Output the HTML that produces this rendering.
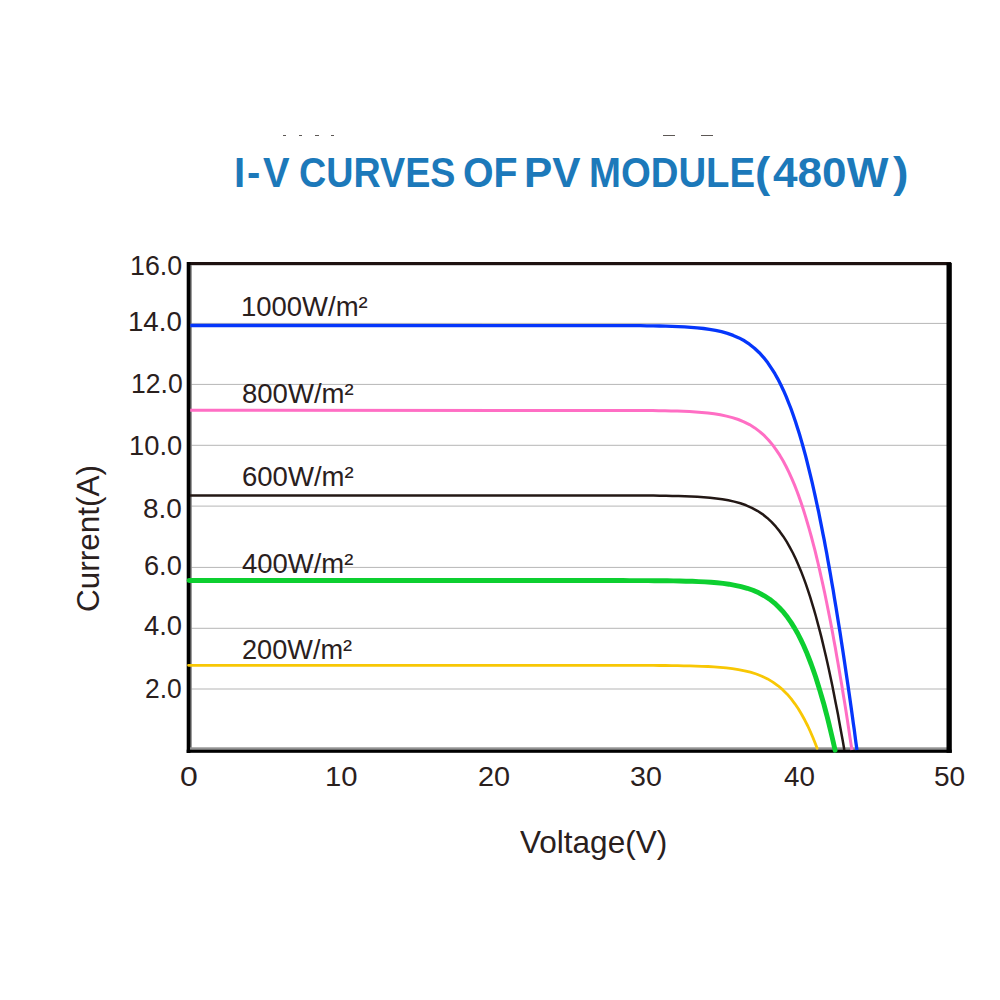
<!DOCTYPE html>
<html><head><meta charset="utf-8">
<style>
html,body{margin:0;padding:0;background:#fff;}
body{width:1000px;height:1000px;position:relative;overflow:hidden;font-family:"Liberation Sans",sans-serif;color:#2a201d;}
.t{position:absolute;white-space:nowrap;line-height:1;}
.tw{top:152px;font-size:42.5px;font-weight:bold;color:#1c79ba;transform-origin:0 0;}
.lb{font-size:26.8px;transform-origin:0 0;}
.ax{font-size:32px;transform-origin:0 0;}
svg{position:absolute;left:0;top:0;}
.dash{position:absolute;height:1.4px;background:#5d5855;top:134.5px;}
</style></head><body>
<div class="dash" style="left:282.6px;width:3.4px"></div>
<div class="dash" style="left:298.8px;width:3.4px"></div>
<div class="dash" style="left:315.4px;width:3.3px"></div>
<div class="dash" style="left:331.1px;width:3.4px"></div>
<div class="dash" style="left:663px;width:12px"></div>
<div class="dash" style="left:700.5px;width:12px"></div>
<span class="t tw" style="left:233.9px;transform:scaleX(0.944)">I</span>
<span class="t tw" style="left:247.3px;transform:scaleX(0.940)">-</span>
<span class="t tw" style="left:262.8px;transform:scaleX(0.937)">V</span>
<span class="t tw" style="left:298.6px;transform:scaleX(0.887)">CURVES</span>
<span class="t tw" style="left:462.6px;transform:scaleX(0.924)">OF</span>
<span class="t tw" style="left:523.5px;transform:scaleX(0.997)">PV</span>
<span class="t tw" style="left:589.4px;transform:scaleX(0.902)">MODULE</span>
<span class="t tw" style="left:755.4px;transform:scaleX(1.075)">(</span>
<span class="t tw" style="left:773.0px;transform:scaleX(1.039)">480W</span>
<span class="t tw" style="left:892.5px;transform:scaleX(1.098)">)</span>

<svg width="1000" height="1000" viewBox="0 0 1000 1000">
<rect x="191" y="322.9" width="756" height="1" fill="#b6b6b6"/><rect x="191" y="383.9" width="756" height="1" fill="#b6b6b6"/><rect x="191" y="444.8" width="756" height="1" fill="#b6b6b6"/><rect x="191" y="505.6" width="756" height="1" fill="#b6b6b6"/><rect x="191" y="566.9" width="756" height="1" fill="#b6b6b6"/><rect x="191" y="627.8" width="756" height="1" fill="#b6b6b6"/><rect x="191" y="688.5" width="756" height="1" fill="#b6b6b6"/>
<rect x="187" y="262" width="764" height="3.2" fill="#1d110f"/>
<rect x="190" y="265" width="1.8" height="485" fill="#858585"/>
<rect x="186.7" y="262" width="3.7" height="491" fill="#000"/>
<rect x="190" y="747.3" width="757" height="2.6" fill="#939393"/>
<rect x="186.7" y="749.7" width="765" height="3.1" fill="#000"/>
<rect x="946.5" y="262.8" width="5.3" height="490" fill="#000"/>
<g fill="none" stroke-linejoin="round">
<path d="M188.5 665.3L629.2 665.3L635.3 665.4L641.3 665.4L647.4 665.4L653.4 665.4L659.5 665.5L665.5 665.5L671.6 665.6L677.7 665.7L683.7 665.8L689.8 665.9L695.8 666.1L701.9 666.3L708.0 666.5L714.0 666.9L720.1 667.3L726.2 667.9L732.3 668.6L738.4 669.6L744.6 670.8L750.4 672.2L756.3 674.0L761.9 676.2L767.6 678.9L772.9 682.1L778.1 685.8L782.9 689.9L787.2 694.2L791.2 698.9L794.9 703.8L798.3 708.8L801.7 714.5L804.9 720.3L807.8 726.0L810.3 731.5L812.9 737.5L815.5 744.0L817.0 748.0L817.1 748.2" stroke="#f8c704" stroke-width="2.8" stroke-linecap="round"/>
<path d="M189.1 580.5L623.1 580.5L629.4 580.6L635.7 580.6L642.0 580.6L648.3 580.6L654.5 580.7L660.8 580.7L667.1 580.8L673.4 580.9L679.7 581.0L686.0 581.2L692.3 581.3L698.7 581.6L705.0 581.9L711.0 582.3L717.0 582.8L723.0 583.4L729.0 584.2L735.0 585.3L741.1 586.6L747.2 588.3L753.0 590.3L758.8 592.8L764.3 595.8L769.6 599.2L774.5 603.1L779.1 607.5L783.5 612.2L787.5 617.3L791.2 622.6L794.6 628.1L797.7 633.5L800.8 639.6L803.6 645.5L806.4 651.9L808.8 658.0L811.3 664.5L813.4 670.4L815.6 676.7L817.7 683.4L819.9 690.6L821.7 696.7L823.6 703.2L825.4 710.0L827.3 717.2L829.2 724.8L830.6 730.8L832.1 737.0L833.6 743.5L834.6 748.0L835.1 750.2" stroke="#0dcf30" stroke-width="4.9" stroke-linecap="round"/>
<path d="M190.0 495.4L615.9 495.4L622.2 495.5L628.4 495.5L634.7 495.5L641.0 495.5L647.2 495.6L653.5 495.6L659.8 495.7L666.0 495.8L672.3 495.9L678.6 496.0L684.8 496.2L691.1 496.5L697.4 496.8L703.7 497.2L710.0 497.7L716.3 498.4L722.3 499.2L728.3 500.3L734.3 501.6L740.4 503.3L746.1 505.3L751.8 507.8L757.3 510.8L762.4 514.1L767.2 517.9L771.7 522.1L775.9 526.7L779.7 531.4L783.3 536.4L786.8 541.9L790.0 547.6L792.9 553.0L795.8 559.0L798.3 564.7L800.9 570.9L803.5 577.6L805.7 583.6L807.9 590.1L810.2 597.1L812.0 603.1L813.9 609.4L815.8 616.0L817.7 623.1L819.7 630.6L821.2 636.4L822.7 642.6L824.2 649.0L825.8 655.7L827.4 662.7L829.0 670.0L830.6 677.6L832.3 685.5L833.9 693.8L835.6 702.4L836.8 708.4L838.0 714.5L839.1 720.9L840.3 727.4L841.5 734.0L842.8 740.9L844.0 748.0L844.3 750.0" stroke="#231815" stroke-width="2.5" stroke-linecap="butt"/>
<path d="M190.2 410.3L609.9 410.4L616.0 410.4L622.1 410.4L628.2 410.4L634.3 410.4L640.5 410.5L646.6 410.5L652.7 410.6L658.8 410.7L665.0 410.8L671.1 410.9L677.2 411.1L683.3 411.3L689.5 411.6L695.6 412.0L701.8 412.4L707.9 413.0L714.1 413.8L720.3 414.8L726.5 416.1L732.4 417.6L738.3 419.5L743.9 421.8L749.5 424.6L754.8 427.9L759.7 431.6L764.4 435.7L768.7 440.2L772.6 444.9L776.2 449.8L779.9 455.4L783.2 461.0L786.1 466.5L789.1 472.6L791.7 478.3L794.4 484.6L796.6 490.3L798.9 496.4L801.2 503.0L803.5 510.0L805.4 516.1L807.3 522.5L809.3 529.3L811.3 536.5L813.3 544.1L814.9 550.1L816.4 556.4L818.0 563.0L819.6 569.9L821.2 577.1L822.9 584.6L824.6 592.5L826.3 600.7L828.0 609.3L829.2 615.2L830.4 621.3L831.6 627.6L832.8 634.1L834.0 640.8L835.3 647.6L836.5 654.7L837.8 662.0L839.1 669.5L840.4 677.2L841.8 685.2L843.1 693.4L844.5 701.8L845.9 710.5L847.3 719.5L848.7 728.7L850.1 738.2L851.6 748.0L851.9 750.0" stroke="#ff6ec4" stroke-width="3.0" stroke-linecap="butt"/>
<path d="M190.3 325.5L603.0 325.6L609.3 325.6L615.5 325.6L621.8 325.6L628.1 325.6L634.4 325.7L640.6 325.7L646.9 325.8L653.2 325.9L659.5 326.0L665.8 326.1L672.0 326.3L678.3 326.6L684.6 326.9L690.9 327.3L697.2 327.8L703.6 328.5L709.5 329.3L715.5 330.4L721.5 331.7L727.5 333.4L733.2 335.4L739.0 337.9L744.4 340.8L749.4 344.2L754.5 348.2L759.3 352.7L763.7 357.6L767.8 362.8L771.5 368.3L774.9 373.7L777.9 379.1L780.9 385.1L783.6 390.7L786.3 396.9L788.5 402.5L790.9 408.5L793.2 415.0L795.6 422.0L797.5 428.0L799.5 434.3L801.5 441.1L803.5 448.3L805.6 455.9L807.1 461.9L808.7 468.3L810.3 474.9L812.0 481.8L813.6 489.0L815.3 496.6L817.0 504.5L818.8 512.7L820.5 521.4L821.7 527.4L822.9 533.6L824.2 539.9L825.4 546.5L826.7 553.3L827.9 560.2L829.2 567.4L830.5 574.8L831.8 582.5L833.2 590.3L834.5 598.4L835.9 606.8L837.3 615.4L838.7 624.2L840.2 633.4L841.6 642.8L843.1 652.5L844.6 662.5L846.1 672.8L847.7 683.5L849.3 694.4L850.9 705.7L852.5 717.3L853.3 723.3L854.2 729.3L855.0 735.5L855.8 741.7L856.7 748.0L857.0 750.0" stroke="#0536fb" stroke-width="3.3" stroke-linecap="butt"/>
</g>
</svg>
<div class="t lb" style="left:130.0px;top:252.9px;transform:scaleX(1.000)">16.0</div>
<div class="t lb" style="left:128.4px;top:309.4px;transform:scaleX(1.031)">14.0</div>
<div class="t lb" style="left:130.5px;top:371.2px;transform:scaleX(0.990)">12.0</div>
<div class="t lb" style="left:129.0px;top:432.8px;transform:scaleX(1.020)">10.0</div>
<div class="t lb" style="left:143.2px;top:495.8px;transform:scaleX(1.043)">8.0</div>
<div class="t lb" style="left:144.2px;top:552.8px;transform:scaleX(1.014)">6.0</div>
<div class="t lb" style="left:144.0px;top:613.0px;transform:scaleX(1.021)">4.0</div>
<div class="t lb" style="left:145.3px;top:675.5px;transform:scaleX(0.986)">2.0</div>
<div class="t lb" style="left:180.0px;top:763.8px;transform:scaleX(1.192)">0</div>
<div class="t lb" style="left:324.6px;top:763.8px;transform:scaleX(1.092)">10</div>
<div class="t lb" style="left:477.9px;top:763.8px;transform:scaleX(1.076)">20</div>
<div class="t lb" style="left:630.1px;top:763.8px;transform:scaleX(1.067)">30</div>
<div class="t lb" style="left:783.5px;top:763.8px;transform:scaleX(1.034)">40</div>
<div class="t lb" style="left:933.9px;top:763.8px;transform:scaleX(1.047)">50</div>
<div class="t lb" style="left:240.7px;top:294.4px;transform:scaleX(1.025)">1000W/m²</div>
<div class="t lb" style="left:241.8px;top:380.8px;transform:scaleX(1.027)">800W/m²</div>
<div class="t lb" style="left:241.8px;top:463.6px;transform:scaleX(1.027)">600W/m²</div>
<div class="t lb" style="left:242.2px;top:551.1px;transform:scaleX(1.024)">400W/m²</div>
<div class="t lb" style="left:241.8px;top:636.5px;transform:scaleX(1.013)">200W/m²</div>
<div class="t ax" style="left:519.8px;top:825.6px;transform:scaleX(0.985)">Voltage(V)</div>
<div class="t ax" style="left:71.8px;top:611.9px;transform:rotate(-90deg) scaleX(0.984)">Current(A)</div>

</body></html>
